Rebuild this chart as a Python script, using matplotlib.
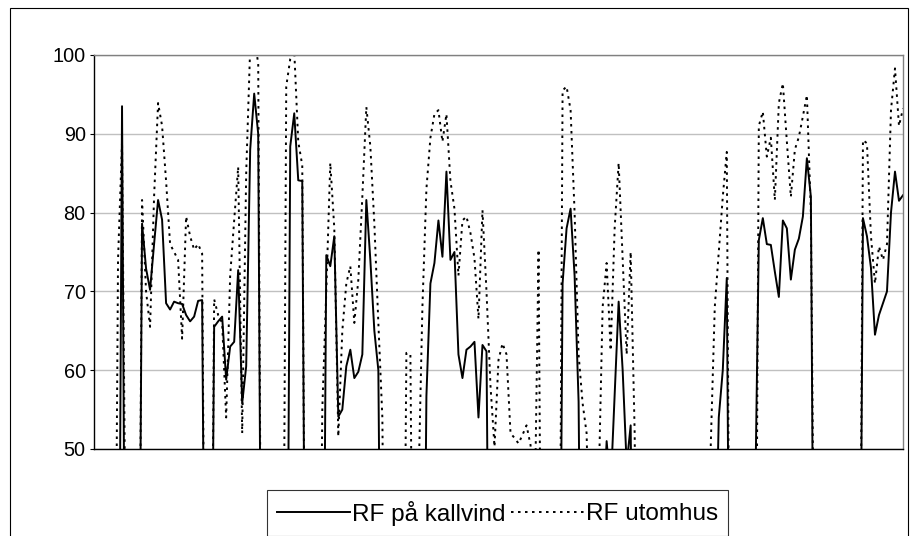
import matplotlib.pyplot as plt
from matplotlib.patches import Rectangle

plt.rcParams['font.family'] = ['Liberation Sans', 'DejaVu Sans']

# RF (%) per mätpunkt, 0 = saknas / under skalan
rf_kallvind = [
    0, 0, 0, 0, 0, 0, 0, 93.5, 0, 0,
    0, 0, 78.6, 72.9, 70.2, 76, 81.6, 79.1, 68.5, 67.7,
    68.7, 68.5, 68.4, 67, 66.2, 66.8, 68.8, 68.9, 0, 0,
    65.5, 66.2, 66.8, 58.8, 63, 63.6, 72.7, 55.8, 60.5, 88,
    95.1, 90, 0, 0, 0, 0, 0, 0, 0, 88.4,
    92.6, 84.1, 84, 0, 0, 0, 0, 0, 74.6, 73.2,
    77, 54.1, 55, 60.5, 62.6, 59, 59.8, 62, 81.6, 74,
    65, 60, 0, 0, 0, 0, 0, 0, 0, 0,
    0, 0, 0, 56.7, 71, 73.6, 79, 74.4, 85.2, 74,
    75, 62, 59, 62.6, 63, 63.6, 54, 63.2, 62.4, 0,
    0, 0, 0, 0, 0, 0, 0, 0, 0, 0,
    0, 0, 0, 0, 0, 0, 0, 71, 78, 80.5,
    72, 56, 0, 0, 0, 0, 0, 40, 51, 45,
    57, 68.7, 60, 48, 53, 0, 0, 0, 0, 0,
    0, 0, 0, 0, 0, 0, 0, 0, 0, 0,
    0, 0, 0, 0, 0, 30, 54, 60, 71.7, 0,
    0, 0, 0, 0, 0, 40, 76.5, 79.3, 76, 75.9,
    72.5, 69.3, 79, 78, 71.5, 75.3, 76.7, 79.5, 86.9, 82,
    0, 0, 0, 0, 0, 0, 0, 0, 0, 0,
    0, 0, 79.3, 77, 73, 64.5, 67, 68.5, 70, 80,
    85.2, 81.5, 82.2,
]

rf_utomhus = [
    0, 0, 0, 0, 0, 0, 74, 89, 30, 0,
    0, 0, 81.6, 70, 65.5, 82, 93.9, 91, 84, 76,
    75, 74, 64, 79.5, 77, 75.3, 76, 74.8, 0, 0,
    69, 67, 66, 54, 72, 79, 85.8, 52, 85, 101,
    102, 99, 0, 0, 0, 0, 0, 0, 96, 99.5,
    100.5, 89, 86, 0, 0, 0, 0, 55, 70, 86.3,
    78, 51.6, 65, 71, 73.2, 66, 71.5, 82, 93.4, 88.4,
    78.6, 66, 54, 0, 0, 0, 0, 0, 62.2, 62,
    0, 45, 68, 83, 89.5, 92.5, 93, 89, 92.5, 84,
    80.5, 72, 79, 79.5, 77.4, 74.2, 66.5, 80.3, 70, 58,
    50.3, 61.3, 63.4, 62, 52, 51.4, 50.7, 51.8, 53, 50.5,
    40, 75.3, 0, 0, 0, 0, 0, 95.5, 96, 93,
    80, 62, 55.8, 52, 30, 0, 45, 68, 73.6, 62.5,
    78, 86.3, 74, 62, 75, 52, 0, 0, 0, 0,
    0, 0, 0, 0, 0, 0, 0, 0, 0, 0,
    0, 0, 0, 0, 50.5, 68, 75, 82, 87.7, 0,
    0, 0, 0, 0, 0, 0, 91, 92.8, 87.1, 89.5,
    81.6, 93.9, 96.4, 89, 82, 88, 89.6, 92.2, 94.9, 80,
    20, 0, 0, 0, 0, 0, 0, 0, 0, 0,
    0, 0, 89.2, 88.8, 77, 71, 75.7, 74, 76, 93,
    98.3, 91, 93.2,
]

y_ticks = [50, 60, 70, 80, 90, 100]

x = list(range(len(rf_kallvind)))

W, H = 911, 536
fig = plt.figure(figsize=(W / 100, H / 100), dpi=100)
ax = fig.add_axes([94 / W, 1 - 449 / H, 809 / W, 394 / H])

ax.plot(x, rf_kallvind, color='black', lw=1.4, label='RF på kallvind')
ax.plot(x, rf_utomhus, color='black', lw=1.4, linestyle=(0, (1.3, 2.3)),
        label='RF utomhus')

ax.set_xlim(0, len(x) - 1)
ax.set_ylim(50, 100)
ax.set_yticks(y_ticks)
ax.set_xticks([])
ax.yaxis.grid(True, color='#c0c0c0', lw=1.0)
ax.set_axisbelow(True)
ax.tick_params(axis='y', length=3, width=0.8, pad=3, labelsize=14.3)

for side in ['left', 'bottom']:
    ax.spines[side].set_color('black')
    ax.spines[side].set_linewidth(1.0)
for side in ['top', 'right']:
    ax.spines[side].set_color('#808080')
    ax.spines[side].set_linewidth(1.0)

leg = ax.legend(loc='center', bbox_to_anchor=(497.5 / W, 1 - 513 / H),
                bbox_transform=fig.transFigure, ncol=2, fontsize=17.5,
                frameon=True, fancybox=False, edgecolor='black',
                handlelength=3.0, handletextpad=0.1, columnspacing=0.2,
                borderpad=0.42, borderaxespad=0)
leg.get_frame().set_linewidth(0.8)

fig.patches.append(Rectangle((10 / W, -0.01), 898 / W, 1 - 8 / H + 0.01,
                             transform=fig.transFigure, fill=False,
                             ec='black', lw=0.8))

plt.savefig('out.png')
